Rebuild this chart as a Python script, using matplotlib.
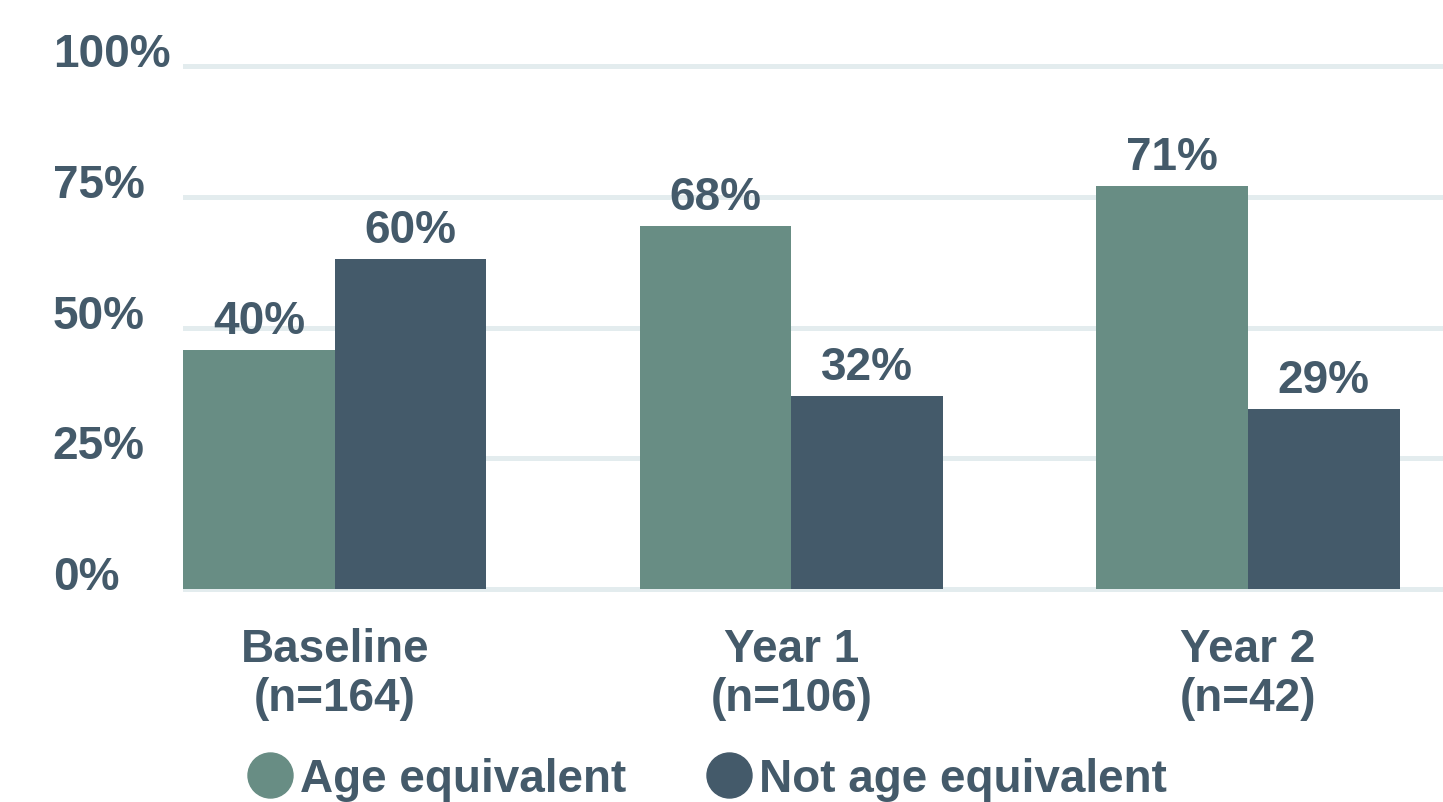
import numpy as np
import matplotlib.pyplot as plt
from matplotlib.lines import Line2D

plt.rcParams['font.family'] = ['Liberation Sans', 'DejaVu Sans']
plt.rcParams['font.weight'] = 'bold'

categories = ['Baseline\n(n=164)', 'Year 1\n(n=106)', 'Year 2\n(n=42)']
series = ['Age equivalent', 'Not age equivalent']
# bar heights as drawn in the picture (the printed labels differ)
age_eq = [45.8, 69.5, 77.1]
not_age_eq = [63.2, 37.0, 34.5]
age_eq_labels = ['40%', '68%', '71%']
not_age_eq_labels = ['60%', '32%', '29%']
yticks = [0, 25, 50, 75, 100]

green = '#688d84'
slate = '#445a6a'
grid_col = '#e3ecee'
text_col = '#445a6a'
fs = 33

fig = plt.figure(figsize=(14.43, 8.03), dpi=100)
ax = fig.add_axes([0.127, 0.2522, 0.873, 0.6772])

x = np.arange(len(categories))
w = 0.332
b1 = ax.bar(x - w/2, age_eq, w, color=green, zorder=2)
b2 = ax.bar(x + w/2, not_age_eq, w, color=slate, zorder=2)

for bars, labs in [(b1, age_eq_labels), (b2, not_age_eq_labels)]:
    for r, lab in zip(bars, labs):
        ax.annotate(lab, (r.get_x() + r.get_width()/2, r.get_height()),
                    xytext=(0, 5), textcoords='offset points',
                    ha='center', va='bottom', fontsize=fs, color=text_col,
                    fontweight='bold')

ax.set_xlim(-0.332, 2.427)
ax.set_ylim(-2, 102)
ax.set_yticks(yticks)
ax.set_yticklabels([f'{v}%' for v in yticks])
ax.yaxis.grid(True, color=grid_col, linewidth=3.6, zorder=0)
ax.set_axisbelow(True)
ax.set_xticks(x)
ax.set_xticklabels(categories, linespacing=1.15)
ax.tick_params(axis='both', length=0, labelsize=fs, labelcolor=text_col)
ax.tick_params(axis='y', pad=94)
ax.tick_params(axis='x', pad=20)
for lab in ax.get_yticklabels():
    lab.set_verticalalignment('baseline')
    lab.set_horizontalalignment('left')
for s in ax.spines.values():
    s.set_visible(False)

handles = [Line2D([], [], marker='o', linestyle='none', markersize=32.4,
                  markerfacecolor=c, markeredgecolor=c) for c in (green, slate)]
fig.legend(handles, series, loc='center left', bbox_to_anchor=(0.168, 0.029),
           ncol=2, frameon=False, fontsize=fs, labelcolor=text_col,
           handletextpad=0.05, columnspacing=1.65, handlelength=1.2,
           borderaxespad=0, borderpad=0)

fig.savefig('out.png', dpi=100)
